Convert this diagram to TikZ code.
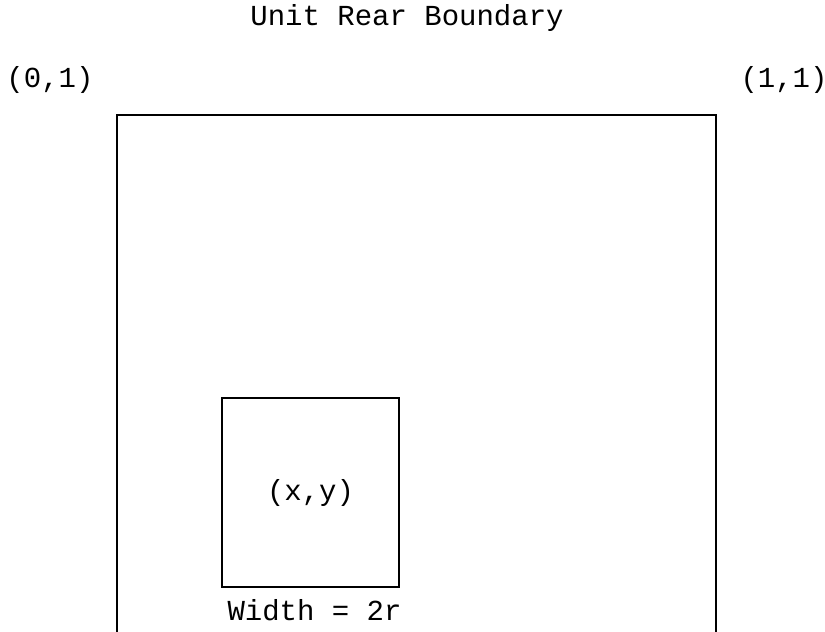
\documentclass[tikz,border=0pt]{standalone}
\usepackage{fontspec}
\setmonofont{Liberation Mono}
\usetikzlibrary{positioning}

\begin{document}
\begin{tikzpicture}[
    lbl/.style={font=\ttfamily\fontsize{16.5}{18}\selectfont, inner sep=0pt},
    boundary/.style={draw=black, line width=1.3pt},
    cell/.style={draw=black, line width=1.3pt, minimum width=3.54cm, minimum height=3.78cm, font=\ttfamily\fontsize{16.5}{18}\selectfont, text depth=0.1cm}
]
\useasboundingbox (0,0) rectangle (16.5,12.64);

% Titel
\node[lbl] (title) at (8.14, 12.28) {Unit Rear Boundary};

% Ecken
\node[lbl] (c01) at (1.0, 11.04) {(0,1)};
\node[lbl] (c11) at (15.68, 11.04) {(1,1)};

% Rand (unten offen)
\coordinate (bl) at (2.34, 0);
\coordinate (tl) at (2.34, 10.34);
\coordinate (tr) at (14.32, 10.34);
\coordinate (br) at (14.32, 0);
\draw[boundary] (bl) -- (tl) -- (tr) -- (br);

% Zelle
\node[cell] (cell) at (6.21, 2.79) {(x,y)};
\node[lbl, below=0.22cm of cell, xshift=0.08cm] (width) {Width = 2r};

\end{tikzpicture}
\end{document}
